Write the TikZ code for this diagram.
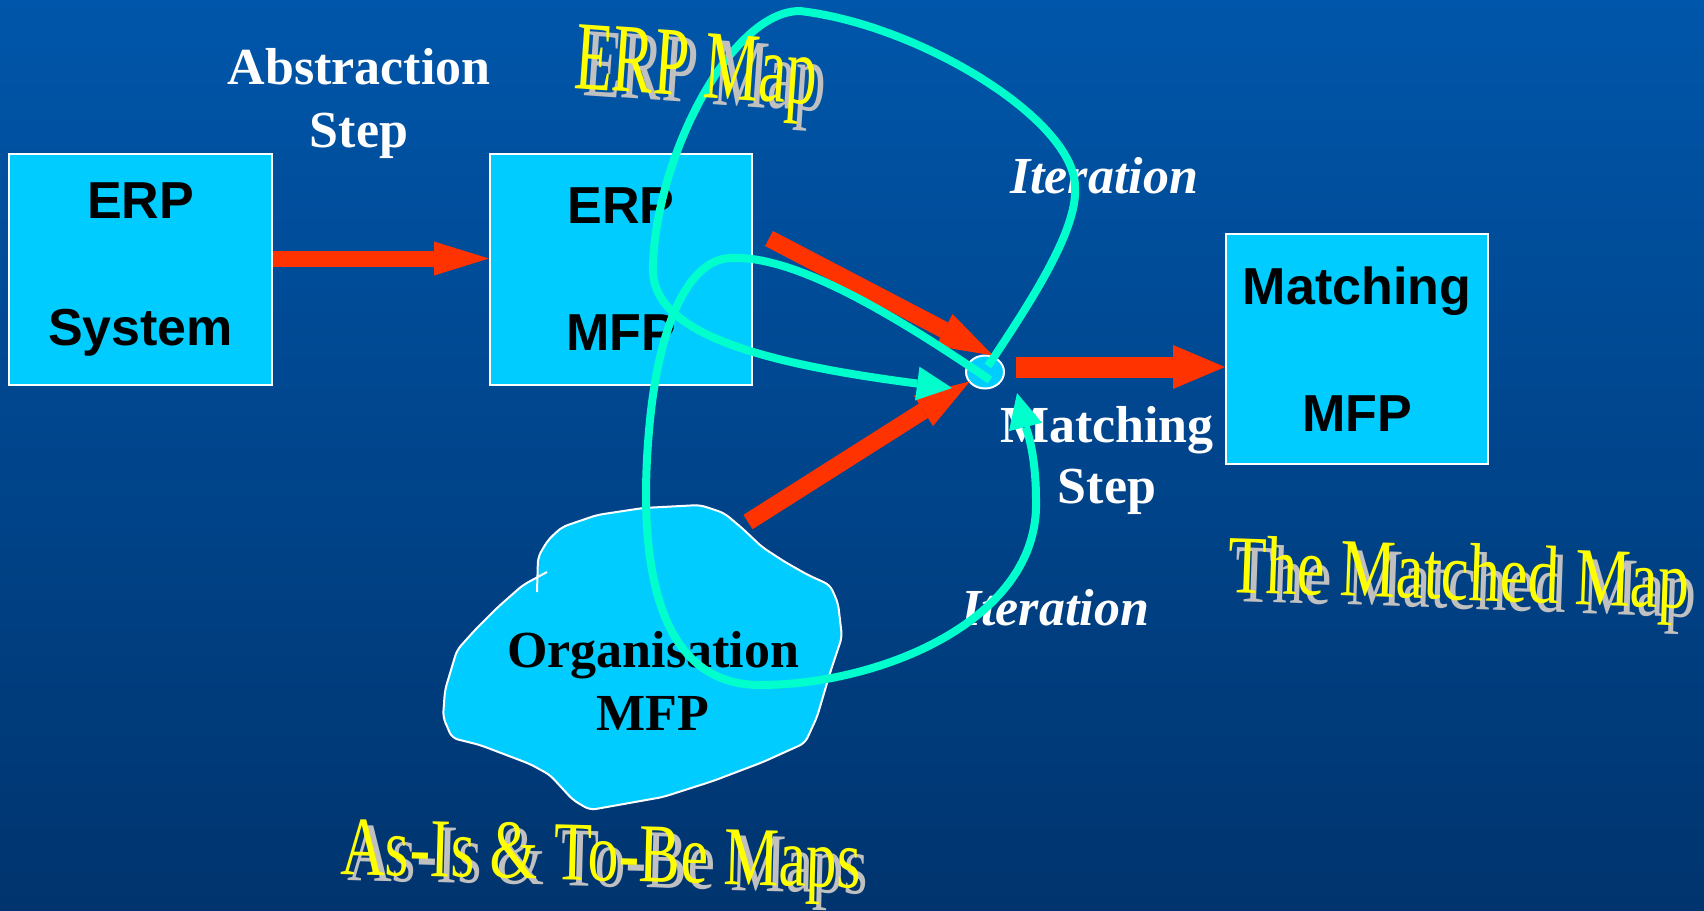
\documentclass[tikz,border=0pt]{standalone}
\usepackage{fontspec}
\setmainfont{Liberation Serif}
\setsansfont{Liberation Sans}
\usetikzlibrary{arrows.meta,shapes.geometric,calc}
\definecolor{bgtop}{RGB}{0,86,170}
\definecolor{bgbot}{RGB}{0,52,110}
\definecolor{boxblue}{RGB}{0,204,255}
\definecolor{arrred}{RGB}{255,51,0}
\definecolor{curvecyan}{RGB}{0,255,204}
\definecolor{wagray}{RGB}{192,192,192}
\definecolor{wayellow}{RGB}{255,255,0}
\begin{document}
\begin{tikzpicture}[x=1pt,y=-1pt,
  box/.style={draw=white, line width=2pt, fill=boxblue, minimum width=262pt, minimum height=230pt,
    inner sep=0pt, align=center, font=\sffamily\bfseries\fontsize{52}{127}\selectfont},
  wtext/.style={text=white, inner sep=0pt, align=center, font=\bfseries\fontsize{52}{63}\selectfont},
  itext/.style={text=white, inner sep=0pt, anchor=base, font=\bfseries\itshape\fontsize{52}{62}\selectfont},
  redA/.style={draw=arrred, line width=16pt, -{Triangle[length=55pt,width=34pt,line width=0pt]}},
  redB/.style={draw=arrred, line width=17pt, -{Triangle[length=55pt,width=36pt,line width=0pt]}},
  redC/.style={draw=arrred, line width=21pt, -{Triangle[length=52pt,width=44pt,line width=0pt]}},
  cyanA/.style={draw=curvecyan, line width=8pt, -{Triangle[length=35pt,width=34pt,line width=0pt]}},
  wa/.style={inner sep=0pt, anchor=base west},
  cloudline/.style={draw=white, line width=2pt, rounded corners=6pt}
]
\useasboundingbox (0,0) rectangle (1704,910);
\shade[top color=bgtop, bottom color=bgbot] (0,0) rectangle (1704,910);

% boxes
\node[box, minimum width=263pt, minimum height=231pt] (erp) at (140.5,269.5) {ERP\\System};
\node[box, minimum height=231pt] (erpmfp) at (621,269.5) {ERP\\MFP};
\node[box] (match) at (1357,349) {Matching\\MFP};

% cloud
\fill[boxblue, rounded corners=6pt] (537,592) -- (538,557) -- (548,540) -- (562,527) -- (597,515) -- (643,508)
  -- (700,505) -- (724,513) -- (742,528) -- (762,547) -- (785,562) -- (808,575) -- (830,585)
  -- (838,603) -- (842,637) -- (830,673) -- (817,717) -- (805,743) -- (763,762) -- (713,781)
  -- (663,797) -- (590,810) -- (573,800) -- (550,775) -- (530,764) -- (480,745) -- (452,738)
  -- (443,717) -- (445,690) -- (457,650) -- (475,630) -- (498,607) -- (523,585) -- (547,572) -- cycle;
\draw[cloudline] (537,592) -- (538,557) -- (548,540) -- (562,527) -- (597,515) -- (643,508)
  -- (700,505) -- (724,513) -- (742,528) -- (762,547) -- (785,562) -- (808,575) -- (830,585)
  -- (838,603) -- (842,637) -- (830,673) -- (817,717) -- (805,743) -- (763,762) -- (713,781)
  -- (663,797) -- (590,810) -- (573,800) -- (550,775) -- (530,764) -- (480,745) -- (452,738)
  -- (443,717) -- (445,690) -- (457,650) -- (475,630) -- (498,607) -- (523,585) -- (547,572);
\node[inner sep=0pt, align=center, font=\bfseries\fontsize{52}{63}\selectfont] (org) at (653,681) {Organisation\\MFP};
\coordinate (orgtail) at (748,522);

% labels
\node[wtext] (abs) at (359,103) {Abstraction\\Step};
\node[wtext, font=\bfseries\fontsize{52}{61}\selectfont] (mstep) at (1107,460) {Matching\\Step};
\node[itext] (it1) at (1104,193) {Iteration};
\node[itext] (it2) at (1055,625) {Iteration};

% matching point
\node[ellipse, draw=white, line width=2pt, fill=boxblue, minimum width=38pt, minimum height=33pt, inner sep=0pt] (circ) at (985,372) {};

% red arrows
\draw[redA] ($(erp.east)+(0,-11)$) -- ($(erpmfp.west)+(0,-11)$);
\draw[redB] ($(erpmfp.east)+(16,-31)$) -- ($(circ.north)+(8,1)$);
\draw[redB] (orgtail) -- ($(circ.south west)+(-1,-3)$);
\draw[redC] ($(circ.east)+(11,-5)$) -- ($(match.west)+(0,18)$);

% cyan iteration loops
\draw[cyanA] ($(circ.center)+(3,-6)$) .. controls (1030,303) and (1078,230) .. (1075,187)
  .. controls (1075,120) and (920,25) .. (800,11)
  .. controls (730,11) and (655,160) .. (653,267)
  .. controls (650,330) and (750,362) .. ($(circ.west)+(-13,16)$);
\draw[cyanA] ($(circ.center)+(5,8)$) .. controls (880,305) and (790,255) .. (730,258)
  .. controls (690,260) and (660,320) .. (650,420)
  .. controls (640,520) and (640,685) .. (760,685)
  .. controls (880,685) and (1040,620) .. (1036,500)
  .. controls (1036,450) and (1025,425) .. ($(circ.center)+(32,21)$);

% word art titles
\node[wa, text=wagray, rotate=-4, font=\fontsize{62}{62}\selectfont] (erpmapS) at (582,95) {\scalebox{1}[1.58]{ERP Map}};
\node[wa, text=wayellow, rotate=-4, font=\fontsize{62}{62}\selectfont] (erpmap) at (573,88) {\scalebox{1}[1.58]{ERP Map}};
\node[wa, text=wagray, rotate=-1.5, font=\fontsize{62}{62}\selectfont] (asisS) at (347,880) {\scalebox{1}[1.35]{As-Is \& To-Be Maps}};
\node[wa, text=wayellow, rotate=-1.5, font=\fontsize{62}{62}\selectfont] (asis) at (340,874) {\scalebox{1}[1.35]{As-Is \& To-Be Maps}};
\node[wa, text=wagray, rotate=-2, font=\fontsize{62.5}{62.5}\selectfont] (matchedS) at (1234,601) {\scalebox{1}[1.32]{The Matched Map}};
\node[wa, text=wayellow, rotate=-2, font=\fontsize{62.5}{62.5}\selectfont] (matched) at (1227,592) {\scalebox{1}[1.32]{The Matched Map}};
\end{tikzpicture}
\end{document}
